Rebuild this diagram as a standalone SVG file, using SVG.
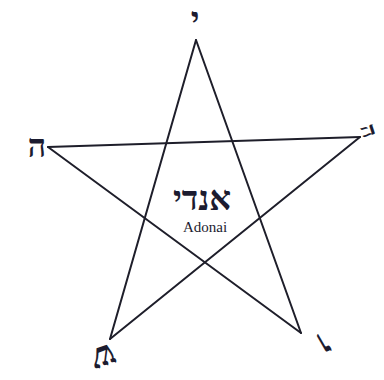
<svg xmlns="http://www.w3.org/2000/svg" width="384" height="380" viewBox="0 0 384 380">
<style>
.edge{stroke:#1e1e2a;stroke-width:2;fill:none;stroke-linecap:round}
.heb{font-family:"Liberation Serif","DejaVu Sans",serif;fill:#1c1c30;font-weight:bold}
.lbl{font-family:"Liberation Serif","DejaVu Serif",serif;fill:#1c1c30}
</style>
<rect width="384" height="380" fill="#ffffff"/>
<g id="connectors">
<line class="edge" x1="196" y1="40" x2="110" y2="339"/>
<line class="edge" x1="196" y1="40" x2="301" y2="333"/>
<line class="edge" x1="48" y1="147" x2="360" y2="137"/>
<line class="edge" x1="48" y1="147" x2="301" y2="333"/>
<line class="edge" x1="360" y1="137" x2="110" y2="339"/>
</g>
<g id="node-top"><text class="heb" x="195" y="30" font-size="33" text-anchor="middle">י</text></g>
<g id="node-left"><text class="heb" x="37" y="157" font-size="32" text-anchor="middle">ה</text></g>
<g id="node-right"><text class="heb" font-size="22" text-anchor="middle" transform="translate(362,133) rotate(72)">ה</text></g>
<g id="node-bottom-left"><text class="heb" font-size="34" text-anchor="middle" transform="translate(100,347) rotate(160)">ש</text></g>
<g id="node-bottom-right"><text class="heb" font-size="36" text-anchor="middle" transform="translate(318,334) rotate(150)">ו</text></g>
<g id="node-center">
<text class="heb" x="202" y="210" font-size="34" text-anchor="middle" direction="rtl">אנדי</text>
<text class="lbl" x="205" y="232" font-size="15" text-anchor="middle">Adonai</text>
</g>
</svg>
